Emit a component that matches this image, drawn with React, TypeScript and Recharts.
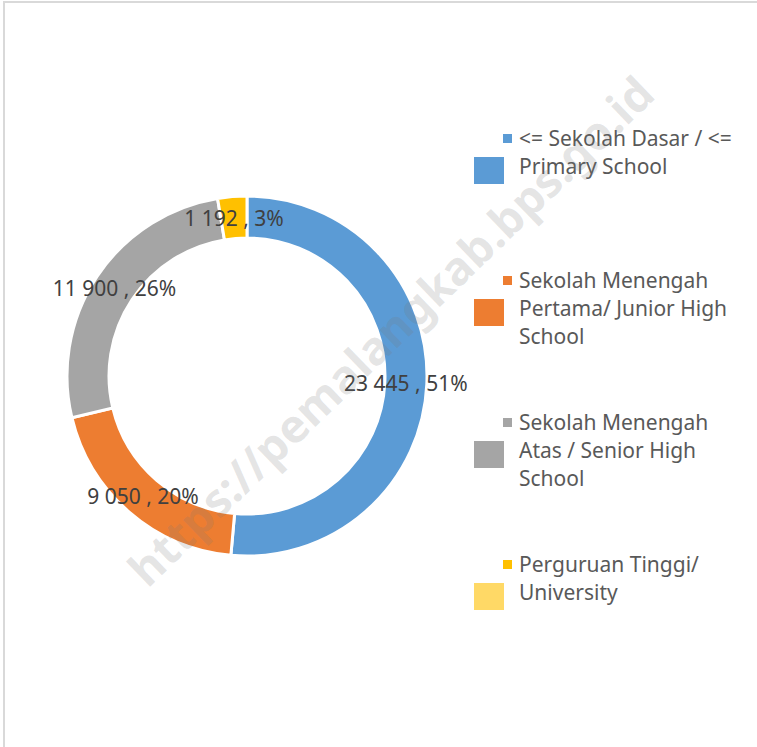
import { PieChart, Pie, Cell, Legend } from 'recharts'

const categories = [
  '<= Sekolah Dasar / <=\nPrimary School',
  'Sekolah Menengah\nPertama/ Junior High\nSchool',
  'Sekolah Menengah\nAtas / Senior High\nSchool',
  'Perguruan Tinggi/\nUniversity',
]
const values = [23445, 9050, 11900, 1192]
const sliceColors = ['#5b9bd5', '#ed7d31', '#a5a5a5', '#ffc000']
const swatchColors = ['#5b9bd5', '#ed7d31', '#a5a5a5', '#ffd966']

const data = categories.map((name, i) => ({ name, value: values[i] }))

const fmt = (n: number) => String(n).replace(/\B(?=(\d{3})+(?!\d))/g, ' ')

const RAD = Math.PI / 180

function SliceLabel(props: any) {
  const { cx, cy, midAngle, innerRadius, outerRadius, value, percent } = props
  const r = (innerRadius + outerRadius) / 2
  const x = cx + r * Math.cos(-midAngle * RAD)
  const y = cy + r * Math.sin(-midAngle * RAD)
  return (
    <text
      x={x}
      y={y}
      textAnchor="middle"
      dominantBaseline="central"
      fill="#404040"
      fontSize={21}
      fontFamily="'Noto Sans', sans-serif"
    >
      {`${fmt(value)} , ${Math.round(percent * 100)}%`}
    </text>
  )
}

function LegendBox() {
  return (
    <div style={{ position: 'relative', width: 287, height: 500, fontFamily: "'Noto Sans', sans-serif" }}>
      {categories.map((name, i) => {
        const top = i * 142
        return (
          <div key={i}>
            <div
              style={{
                position: 'absolute',
                left: 33,
                top: top + 10,
                width: 9,
                height: 9,
                background: sliceColors[i],
              }}
            />
            <div
              style={{
                position: 'absolute',
                left: 4,
                top: top + 33,
                width: 30,
                height: 27,
                background: swatchColors[i],
              }}
            />
            <div
              style={{
                position: 'absolute',
                left: 49,
                top: top,
                fontSize: 21,
                lineHeight: '28px',
                color: '#595959',
                whiteSpace: 'pre-line',
                textAlign: 'left',
              }}
            >
              {name}
            </div>
          </div>
        )
      })}
    </div>
  )
}

export default function App() {
  return (
    <div style={{ position: 'absolute', left: 0, top: 0, width: 757, height: 747, background: '#fff', overflow: 'hidden' }}>
      <div
        style={{
          position: 'absolute',
          left: 3,
          top: 1,
          width: 760,
          height: 760,
          borderLeft: '2px solid #d9d9d9',
          borderTop: '2px solid #d9d9d9',
        }}
      />
      <PieChart
        width={757}
        height={747}
        margin={{ top: 0, right: 0, bottom: 0, left: 0 }}
        style={{ position: 'absolute', left: 0, top: 0 }}
      >
        <Pie
          data={data}
          dataKey="value"
          nameKey="name"
          cx={247}
          cy={376}
          innerRadius={138}
          outerRadius={180}
          startAngle={90}
          endAngle={-270}
          stroke="#ffffff"
          strokeWidth={3}
          label={SliceLabel}
          labelLine={false}
          isAnimationActive={false}
        >
          {data.map((d, i) => (
            <Cell key={d.name} fill={sliceColors[i]} />
          ))}
        </Pie>
        <Legend
          content={() => <LegendBox />}
          wrapperStyle={{ position: 'absolute', left: 470, top: 124, width: 287 }}
        />
      </PieChart>
      <div
        style={{
          position: 'absolute',
          left: 390,
          top: 330,
          transform: 'translate(-50%, -50%) rotate(-44deg)',
          whiteSpace: 'nowrap',
          fontFamily: "'Noto Sans', sans-serif",
          fontWeight: 700,
          fontSize: 46,
          color: 'rgba(120,120,120,0.2)',
          pointerEvents: 'none',
        }}
      >
        https://pemalangkab.bps.go.id
      </div>
    </div>
  )
}
